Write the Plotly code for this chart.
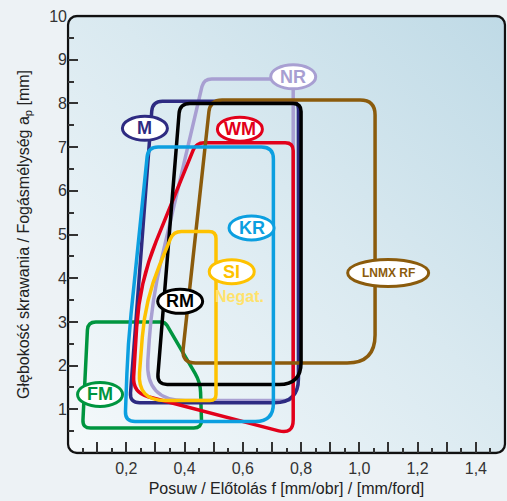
import base64
import math
import plotly.graph_objects as go

# ---------------------------------------------------------------
# Application areas of the chipbreakers: outline corners given as
# feed f [mm/rev] and depth of cut ap [mm]
# ---------------------------------------------------------------
FM_F = [0.068, 0.333, 0.454, 0.459, 0.050]
FM_AP = [3.00, 3.00, 1.62, 0.57, 0.57]

NR_F = [0.466, 0.773, 0.773, 0.265, 0.288]
NR_AP = [8.56, 8.56, 1.20, 1.20, 3.50]

M_F = [0.290, 0.791, 0.791, 0.212]
M_AP = [8.05, 8.05, 1.15, 1.15]

WM_F = [0.440, 0.773, 0.773, 0.222, 0.245]
WM_AP = [7.10, 7.10, 0.42, 1.38, 3.90]

LNMX_F = [0.488, 1.054, 1.054, 0.390]
LNMX_AP = [8.08, 8.08, 2.06, 2.06]

RM_F = [0.384, 0.800, 0.800, 0.306]
RM_AP = [8.00, 8.00, 1.57, 1.57]

SI_F = [0.362, 0.508, 0.508, 0.238, 0.265]
SI_AP = [5.07, 5.07, 1.20, 1.20, 3.50]

KR_F = [0.275, 0.705, 0.705, 0.196, 0.206]
KR_AP = [7.00, 7.00, 0.72, 0.72, 2.50]

# label names and where each one sits (f, ap)
LABELS = ["FM", "NR", "M", "WM", "LNMX RF", "RM", "SI", "KR"]
LABEL_F = [0.110, 0.773, 0.264, 0.590, 1.099, 0.385, 0.562, 0.630]
LABEL_AP = [1.34, 8.61, 7.43, 7.41, 4.12, 3.47, 4.15, 5.15]

NEGAT_TEXT = "Negat."
NEGAT_F, NEGAT_AP = 0.590, 3.58

# labelled feed ticks, plus the unlabelled long ticks between them
X_TICKS = [0.2, 0.4, 0.6, 0.8, 1.0, 1.2, 1.4]
X_TICKTEXT = ["0,2", "0,4", "0,6", "0,8", "1,0", "1,2", "1,4"]
X_MID_TICKS = [0.1, 0.3, 0.5, 0.7, 0.9, 1.1, 1.3, 1.5]
Y_TICKS = [1, 2, 3, 4, 5, 6, 7, 8, 9, 10]
Y_TICKTEXT = ["1", "2", "3", "4", "5", "6", "7", "8", "9", "10"]

X_TITLE = "Posuw / Előtolás f [mm/obr] / [mm/ford]"
Y_TITLE = "Głębokość skrawania / Fogásmélység a<sub>p</sub> [mm]"

# ---------------------------------------------------------------
# styling
# ---------------------------------------------------------------
W, H = 507, 501
ML, MR, MT, MB = 68, 2, 16, 48
PW, PH = W - ML - MR, H - MT - MB
X_RANGE = (0.0, 1.5)
Y_RANGE = (0.0, 10.0)
SX = PW / (X_RANGE[1] - X_RANGE[0])
SY = PH / (Y_RANGE[1] - Y_RANGE[0])

FONT = "Liberation Sans, Arial, sans-serif"
LW = 3.5
TICK_COLOR = "#333333"

# drawing order (bottom to top), colour and corner radii in pixels
OUTLINES = [
    ("FM", FM_F, FM_AP, "#00953f", [8, 4, 10, 8, 8]),
    ("NR", NR_F, NR_AP, "#a89fd2", [8, 0, 8, 40, 40]),
    ("M", M_F, M_AP, "#2e2b82", [10, 8, 24, 10]),
    ("WM", WM_F, WM_AP, "#e2001a", [8, 8, 15, 16, 45]),
    ("LNMX RF", LNMX_F, LNMX_AP, "#8b5b0c", [12, 15, 28, 14]),
    ("RM", RM_F, RM_AP, "#000000", [10, 8, 22, 10]),
    ("SI", SI_F, SI_AP, "#fec200", [8, 7, 6, 28, 40]),
    ("KR", KR_F, KR_AP, "#0c9fe0", [10, 12, 18, 10, 30]),
]
COLOR = {name: col for name, _, _, col, _ in OUTLINES}

# label ellipse sizes in pixels (width, height)
LABEL_SIZE = {"LNMX RF": (81, 27)}
DEFAULT_LABEL_SIZE = (45, 24)
LABEL_FONT = {"LNMX RF": 12}


def rounded_path(xs, ys, radii):
    """Closed SVG path through the corners, each corner rounded in pixel space."""
    pts = [((x - X_RANGE[0]) * SX, (y - Y_RANGE[0]) * SY) for x, y in zip(xs, ys)]
    n = len(pts)
    corners = []
    for i in range(n):
        px, py = pts[i]
        ax, ay = pts[i - 1]
        bx, by = pts[(i + 1) % n]
        d1 = math.hypot(ax - px, ay - py)
        d2 = math.hypot(bx - px, by - py)
        r = min(radii[i], 0.5 * d1, 0.5 * d2)
        p_in = (px + (ax - px) / d1 * r, py + (ay - py) / d1 * r)
        p_out = (px + (bx - px) / d2 * r, py + (by - py) / d2 * r)
        corners.append((p_in, (px, py), p_out))

    def fmt(p):
        return f"{p[0] / SX + X_RANGE[0]:.5f},{p[1] / SY + Y_RANGE[0]:.5f}"

    path = "M" + fmt(corners[0][2])
    for i in range(1, n + 1):
        p_in, v, p_out = corners[i % n]
        path += " L" + fmt(p_in) + " Q" + fmt(v) + " " + fmt(p_out)
    return path + " Z"


# plot-area panel: rounded frame with a diagonal light-blue gradient
PAD = 1.5
svg = f"""<svg xmlns='http://www.w3.org/2000/svg' width='{PW + 2 * PAD}' height='{PH + 2 * PAD}'>
<defs><linearGradient id='g' x1='0' y1='1' x2='1' y2='0'>
<stop offset='0' stop-color='#f5f9fb'/><stop offset='0.55' stop-color='#d9e9f0'/>
<stop offset='1' stop-color='#bfdae6'/></linearGradient></defs>
<rect x='{PAD}' y='{PAD}' width='{PW}' height='{PH}' rx='9' ry='9'
 fill='url(#g)' stroke='#111111' stroke-width='2.3'/></svg>"""
svg_uri = "data:image/svg+xml;base64," + base64.b64encode(svg.encode()).decode()

fig = go.Figure()

# invisible traces so both feed axes are drawn
fig.add_trace(go.Scatter(x=[X_RANGE[0], X_RANGE[1]], y=[Y_RANGE[0], Y_RANGE[1]],
                         mode="markers", marker=dict(opacity=0), hoverinfo="skip",
                         showlegend=False))
fig.add_trace(go.Scatter(x=[X_RANGE[0], X_RANGE[1]], y=[Y_RANGE[0], Y_RANGE[1]],
                         xaxis="x2", mode="markers", marker=dict(opacity=0),
                         hoverinfo="skip", showlegend=False))

shapes = []
for name, fs, aps, col, radii in OUTLINES:
    shapes.append(dict(type="path", xref="x", yref="y",
                       path=rounded_path(fs, aps, radii),
                       line=dict(color=col, width=LW), fillcolor="rgba(0,0,0,0)",
                       layer="above"))

annotations = []
for name, f, ap in zip(LABELS, LABEL_F, LABEL_AP):
    w, h = LABEL_SIZE.get(name, DEFAULT_LABEL_SIZE)
    col = COLOR[name]
    shapes.append(dict(type="circle", xref="x", yref="y",
                       xsizemode="pixel", ysizemode="pixel",
                       xanchor=f, yanchor=ap,
                       x0=-w / 2, x1=w / 2, y0=-h / 2, y1=h / 2,
                       line=dict(color=col, width=3), fillcolor="white",
                       layer="above"))
    annotations.append(dict(x=f, y=ap, xref="x", yref="y", text=f"<b>{name}</b>",
                            showarrow=False,
                            font=dict(family=FONT, size=LABEL_FONT.get(name, 18), color=col),
                            xanchor="center", yanchor="middle"))

annotations.append(dict(x=NEGAT_F, y=NEGAT_AP, xref="x", yref="y",
                        text=f"<b>{NEGAT_TEXT}</b>", showarrow=False,
                        font=dict(family=FONT, size=16, color="#ffe26b"),
                        xanchor="center", yanchor="middle"))

fig.update_layout(
    width=W, height=H,
    margin=dict(l=ML, r=MR, t=MT, b=MB, pad=0),
    paper_bgcolor="#edf2f5",
    plot_bgcolor="rgba(0,0,0,0)",
    showlegend=False,
    shapes=shapes,
    annotations=annotations,
    images=[dict(source=svg_uri, xref="paper", yref="paper",
                 x=-PAD / PW, y=1 + PAD / PH,
                 sizex=(PW + 2 * PAD) / PW, sizey=(PH + 2 * PAD) / PH,
                 sizing="stretch", xanchor="left", yanchor="top", layer="below")],
    font=dict(family=FONT, size=16, color="#222222"),
    xaxis=dict(
        range=list(X_RANGE), showgrid=False, zeroline=False, showline=False,
        tickmode="array", tickvals=X_TICKS, ticktext=X_TICKTEXT,
        ticks="inside", ticklen=11, tickwidth=1.5, tickcolor=TICK_COLOR,
        ticklabelstandoff=4,
        minor=dict(dtick=0.05, tick0=0, ticks="inside", ticklen=5, tickwidth=1.5,
                   tickcolor=TICK_COLOR, showgrid=False),
        tickfont=dict(family=FONT, size=16, color="#333333"),
        title=dict(text=X_TITLE, font=dict(family=FONT, size=16, color="#222222"),
                   standoff=6),
        fixedrange=True,
    ),
    xaxis2=dict(overlaying="x", anchor="y", side="bottom", range=list(X_RANGE),
                showgrid=False, zeroline=False, showline=False,
                tickmode="array", tickvals=X_MID_TICKS, showticklabels=False,
                ticks="inside", ticklen=11, tickwidth=1.5, tickcolor=TICK_COLOR,
                fixedrange=True),
    yaxis=dict(
        range=list(Y_RANGE), showgrid=False, zeroline=False, showline=False,
        tickmode="array", tickvals=Y_TICKS, ticktext=Y_TICKTEXT,
        ticks="inside", ticklen=10, tickwidth=1.5, tickcolor=TICK_COLOR,
        minor=dict(dtick=0.5, tick0=0, ticks="inside", ticklen=6, tickwidth=1.5,
                   tickcolor=TICK_COLOR, showgrid=False),
        tickfont=dict(family=FONT, size=16, color="#333333"),
        title=dict(text=Y_TITLE, font=dict(family=FONT, size=16, color="#222222"),
                   standoff=15),
        fixedrange=True,
    ),
)

fig.write_html("out.html", config={"displayModeBar": False})
